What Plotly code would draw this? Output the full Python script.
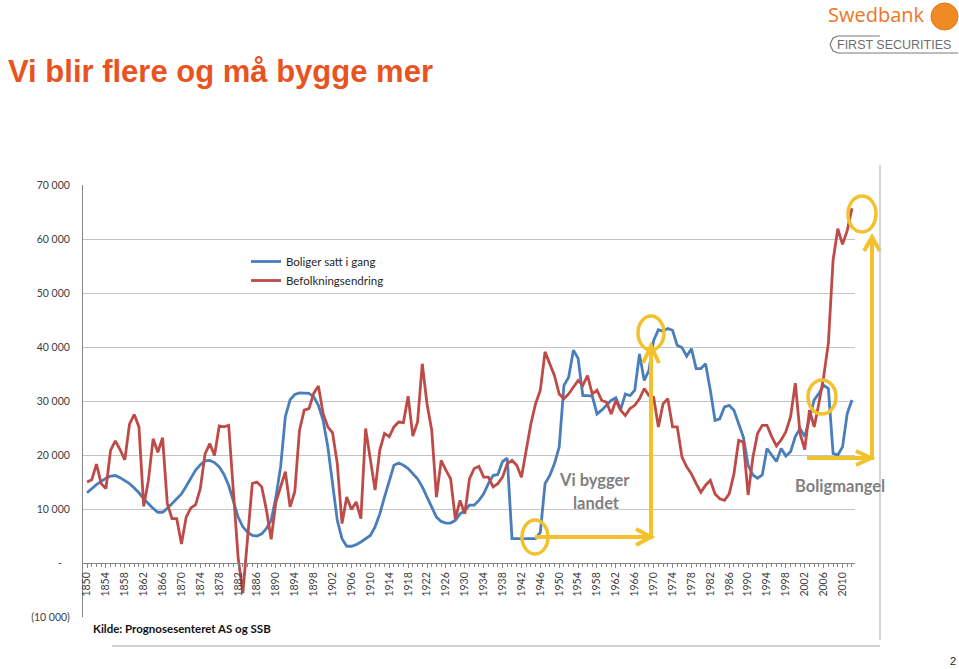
import plotly.graph_objects as go

# ---------------- data ----------------
years = list(range(1850, 2013))

boliger_satt_i_gang = [
    13000, 13800, 14500, 15100, 15700, 16100, 16200, 15800, 15300, 14700,   # 1850-1859
    13900, 13000, 11900, 11000, 10100, 9400, 9400, 10100, 11000, 11900,     # 1860-1869
    12800, 14200, 15800, 17200, 18200, 18900, 19000, 18600, 17800, 16400,   # 1870-1879
    14400, 11300, 8500, 6700, 5700, 5100, 5000, 5400, 6400, 7900,           # 1880-1889
    12200, 17800, 27100, 30200, 31200, 31500, 31500, 31400, 30800, 29200,   # 1890-1899
    26400, 21500, 14700, 7900, 4500, 3100, 3100, 3400, 3900, 4500,          # 1900-1909
    5100, 6700, 9100, 12200, 15300, 18100, 18500, 18100, 17500, 16500,      # 1910-1919
    15600, 14100, 12200, 10100, 8500, 7700, 7400, 7400, 7900, 9100,         # 1920-1929
    9700, 10700, 10700, 11600, 12800, 14700, 16200, 16400, 18800, 19400,    # 1930-1939
    4500, 4500, 4500, 4500, 4500, 4500, 5700, 14700, 16200, 18400,          # 1940-1949
    21500, 32900, 34400, 39400, 37900, 31000, 31000, 30900, 27600, 28300,   # 1950-1959
    29200, 30100, 30600, 28400, 31300, 31000, 32000, 38700, 33800, 35700,   # 1960-1969
    41200, 43200, 42900, 43400, 43100, 40300, 39900, 38300, 39700, 36000,   # 1970-1979
    36000, 36900, 32000, 26400, 26700, 28900, 29200, 28300, 25800, 23300,   # 1980-1989
    18100, 16300, 15700, 16300, 21200, 20000, 18800, 21200, 19800, 20600,   # 1990-1999
    23400, 24900, 23400, 26800, 30200, 31400, 32900, 32300, 20300, 20000,   # 2000-2009
    21500, 27700, 30200,                                                    # 2010-2012
]

befolkningsendring = [
    15000, 15400, 18300, 14700, 13800, 20900, 22600, 21000, 19100, 25700,   # 1850-1859
    27500, 25200, 10500, 15300, 23000, 20500, 23200, 11000, 8200, 8200,     # 1860-1869
    3500, 8500, 10200, 10800, 13800, 20200, 22100, 19900, 25400, 25200,     # 1870-1879
    25500, 14000, 1000, -5600, 4500, 14700, 15000, 14100, 9800, 4400,       # 1880-1889
    11300, 14100, 16900, 10400, 13200, 24600, 28300, 28600, 31400, 32800,   # 1890-1899
    27700, 25200, 24100, 18400, 7300, 12200, 9900, 11300, 8200, 24900,      # 1900-1909
    19000, 13500, 20900, 24000, 23400, 25200, 26100, 26000, 30900, 23500,   # 1910-1919
    26100, 36900, 29500, 24600, 12200, 19000, 17200, 15600, 8200, 11600,    # 1920-1929
    9100, 15600, 17500, 17900, 15900, 15900, 14100, 14700, 15900, 18400,    # 1930-1939
    19000, 18100, 15900, 20900, 25800, 29500, 32000, 39100, 36900, 34700,   # 1940-1949
    31300, 30400, 31300, 32600, 33800, 32900, 34700, 31300, 32000, 30100,   # 1950-1959
    29800, 27600, 30100, 28300, 27300, 28600, 29200, 30400, 32300, 31000,   # 1960-1969
    30700, 25200, 29500, 30400, 25200, 25200, 19600, 17800, 16500, 14700,   # 1970-1979
    13100, 14400, 15300, 12800, 11900, 11600, 12800, 16500, 22700, 22400,   # 1980-1989
    12600, 19500, 24000, 25500, 25500, 23400, 21700, 22800, 24300, 27100,   # 1990-1999
    33300, 24000, 21000, 28300, 25200, 29600, 34500, 40700, 56100, 61900,   # 2000-2009
    59000, 61600, 65700,                                                    # 2010-2012
]

series_names = ["Boliger satt i gang", "Befolkningsendring"]
series_colors = ["#4A7EBB", "#BE4B48"]

x_tick_years = list(range(1850, 2011, 4))
y_tick_values = list(range(-10000, 70001, 10000))
y_tick_labels = ["(10 000)", "-\u00a0\u00a0\u00a0", "10 000", "20 000", "30 000",
                 "40 000", "50 000", "60 000", "70 000"]

title_text = "Vi blir flere og må bygge mer"
source_text = "Kilde: Prognosesenteret AS og SSB"

# ---------------- layout geometry (page pixels) ----------------
W, H = 959, 669
PL, PR, PT, PB = 83, 855, 185, 617          # plot area edges on the page
XR = [1849.15, 2012.64]
YR = [-10000, 70000]


def paper_x(px):
    return (px - PL) / (PR - PL)


def paper_y(py):
    return (PB - py) / (PB - PT)


fig = go.Figure()
for name, vals, col in zip(series_names, [boliger_satt_i_gang, befolkningsendring], series_colors):
    fig.add_trace(go.Scatter(x=years, y=vals, mode="lines", name=name,
                             line=dict(color=col, width=2.8), hoverinfo="skip"))

axis_font = dict(family="Lato, Open Sans, sans-serif", size=10.5, color="#404040")
zero_pos = (0 - YR[0]) / (YR[1] - YR[0])

fig.update_layout(
    width=W, height=H,
    margin=dict(l=PL, r=W - PR, t=PT, b=H - PB, pad=0),
    paper_bgcolor="white", plot_bgcolor="white",
    showlegend=True,
    legend=dict(x=paper_x(246), y=paper_y(247), xanchor="left", yanchor="top",
                font=dict(family="Lato, Open Sans, sans-serif", size=11.5, color="#262626"),
                bgcolor="rgba(0,0,0,0)", itemwidth=30, tracegroupgap=0),
    xaxis=dict(range=XR, tickvals=x_tick_years, ticktext=[str(y) for y in x_tick_years],
               tickangle=-90, anchor="free", position=zero_pos, showline=True,
               linecolor="#868686", linewidth=1, ticks="outside", ticklen=4,
               tickcolor="#868686", showgrid=False, zeroline=False, tickfont=axis_font,
               minor=dict(ticks="outside", dtick=1, tick0=1850, ticklen=3,
                          tickcolor="#868686", showgrid=False)),
    yaxis=dict(range=YR, tickvals=y_tick_values, ticktext=y_tick_labels,
               showline=True, linecolor="#868686", linewidth=1, ticks="",
               ticklabelstandoff=10, showgrid=True, gridcolor="#C4C4C4", gridwidth=1,
               zeroline=False, tickfont=axis_font),
)

# ---------------- decorations ----------------
YEL = "#F3C12C"
shapes = []


def ell(cx, cy, rx, ry):
    shapes.append(dict(type="circle", xref="paper", yref="paper",
                       x0=paper_x(cx - rx), x1=paper_x(cx + rx),
                       y0=paper_y(cy + ry), y1=paper_y(cy - ry),
                       line=dict(color=YEL, width=3.5)))


def pline(pts, color=YEL, width=4):
    path = "M " + " L ".join(f"{paper_x(a):.5f},{paper_y(b):.5f}" for a, b in pts)
    shapes.append(dict(type="path", xref="paper", yref="paper", path=path,
                       line=dict(color=color, width=width)))


# arrow 1 ("Vi bygger landet")
pline([(535, 537), (652, 537)])
pline([(636, 529), (651, 537), (636, 545)])
pline([(651, 539), (651, 346)])
pline([(643, 363), (651, 346), (659, 363)])
# arrow 2 ("Boligmangel")
pline([(807, 458), (872, 458)])
pline([(856, 451), (871, 458), (856, 465)])
pline([(872, 460), (872, 237)])
pline([(864, 251), (872, 237), (880, 251)])

ell(535, 537, 13, 17)
ell(651, 333, 13, 17)
ell(822, 397, 14, 17)
ell(862, 214, 14, 18)

# frame lines of embedded chart
shapes.append(dict(type="line", xref="paper", yref="paper",
                   x0=paper_x(880), x1=paper_x(880), y0=paper_y(165), y1=paper_y(640),
                   line=dict(color="#C8C8C8", width=1.5)))
shapes.append(dict(type="line", xref="paper", yref="paper",
                   x0=paper_x(112), x1=paper_x(880), y0=paper_y(646), y1=paper_y(646),
                   line=dict(color="#A0A0A0", width=1)))

# logo circle
shapes.append(dict(type="circle", xref="paper", yref="paper",
                   x0=paper_x(931), x1=paper_x(958), y0=paper_y(30), y1=paper_y(3),
                   fillcolor="#F08A24", line=dict(color="#E8731C", width=1)))
# FIRST SECURITIES frame
pline([(838, 36), (833, 38), (830, 44.5), (833, 51), (838, 53), (958, 53)], color="#7A7A7A", width=1.2)
pline([(838, 36), (880, 36)], color="#7A7A7A", width=1.2)

fig.update_layout(shapes=shapes)

ann = []


def txt(px, py, text, size, color, family, bold=False, xanchor="left"):
    ann.append(dict(x=paper_x(px), y=paper_y(py), xref="paper", yref="paper",
                    text=f"<b>{text}</b>" if bold else text, showarrow=False,
                    xanchor=xanchor, yanchor="middle",
                    font=dict(size=size, color=color, family=family)))


txt(6, 72, title_text, 31, "#E8531F", "Liberation Sans, Arial, sans-serif", bold=True)
txt(826, 15, "Swedbank", 20, "#EE7623", "Open Sans, Lato, sans-serif")
txt(835, 44.5, "FIRST SECURITIES", 12.5, "#6D6E71", "Liberation Sans, Arial, sans-serif")
txt(594, 480, "Vi bygger", 16.5, "#7F7F7F", "Lato, Open Sans, sans-serif", bold=True, xanchor="center")
txt(596, 503, "landet", 16.5, "#7F7F7F", "Lato, Open Sans, sans-serif", bold=True, xanchor="center")
txt(840, 486, "Boligmangel", 16.5, "#7F7F7F", "Lato, Open Sans, sans-serif", bold=True, xanchor="center")
txt(91, 628, source_text, 11.5, "#111111", "Lato, Open Sans, sans-serif", bold=True)
txt(953, 661, "2", 11, "#222222", "Liberation Sans, Arial, sans-serif", xanchor="center")

fig.update_layout(annotations=ann)

# remove the browser's default 8px body margin so the figure sits at the page origin
fig.write_html("out.html", config={"displayModeBar": False, "staticPlot": True},
               post_script="document.body.style.margin='0';document.body.style.overflow='hidden';")
